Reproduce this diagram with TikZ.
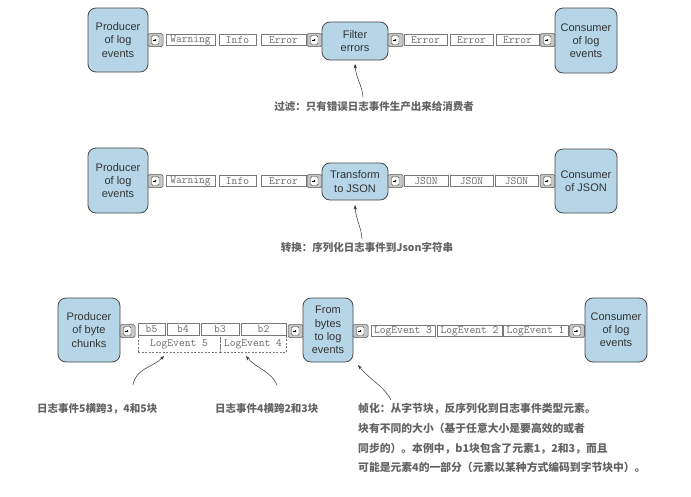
\documentclass[tikz,border=0pt]{standalone}
\usepackage{fontspec}
\setmainfont{Liberation Sans}
\newfontfamily\cjk{Noto Sans CJK SC}
\usetikzlibrary{arrows.meta,calc}
\definecolor{boxblue}{RGB}{182,214,232}
\definecolor{boxedge}{RGB}{72,72,72}
\definecolor{msgedge}{RGB}{120,120,120}
\definecolor{msgtext}{RGB}{105,105,105}
\definecolor{captext}{RGB}{100,100,100}
\tikzset{
  proc/.style={draw=boxedge, line width=0.8pt, fill=boxblue, rounded corners=8pt,
    align=center, inner sep=0pt, font=\fontsize{11}{13.2}\selectfont, text=black!80},
  msg/.style={draw=msgedge, line width=0.6pt, fill=white, inner sep=0pt,
    minimum height=11.5pt, font=\ttfamily\fontsize{11.2}{11}\selectfont, text=msgtext},
  port/.style={draw=gray!70!black, line width=0.5pt, fill=gray!45, rounded corners=1.5pt,
    minimum width=15pt, minimum height=13pt, inner sep=0pt,
    path picture={
      \fill[white] ($(path picture bounding box.south west)+(3.5pt,2pt)$) rectangle
                   ($(path picture bounding box.north east)+(-4pt,-2pt)$);
      \draw[gray!60!black, line width=0.4pt] ($(path picture bounding box.south west)+(3.5pt,2pt)$) rectangle
                   ($(path picture bounding box.north east)+(-4pt,-2pt)$);
      \fill[black] ($(path picture bounding box.center)+(2pt,0pt)$) -- ++(-3pt,1.8pt) -- ++(0pt,-3.6pt) -- cycle;
      \draw[black, line width=0.7pt] ($(path picture bounding box.center)+(-3pt,0pt)$) -- ++(2.5pt,0pt);
    }},
  captxt/.style={font=\cjk\bfseries\fontsize{10.5}{19.5}\selectfont, text=captext, inner sep=0pt},
  ann/.style={draw=gray!40!black, line width=0.5pt, -{Stealth[length=4.5pt,width=3.2pt]}}
}
\begin{document}
\begin{tikzpicture}[x=1pt,y=-1pt]
\useasboundingbox[fill=white] (0,0) rectangle (691,496);

% ---------- Row 1 ----------
\node[proc, minimum width=60pt, minimum height=64pt] (p1) at (118,40) {Producer\\of log\\events};
\node[port] (p1o) at (155.5,40) {};
\node[msg, minimum width=49pt] (m11) at (190.5,40) {Warning};
\node[msg, minimum width=37pt] (m12) at (237.5,40) {Info};
\node[msg, minimum width=45pt] (m13) at (283.5,40) {Error};
\node[port] (f1i) at (314.5,40) {};
\node[proc, minimum width=66pt, minimum height=38pt] (f1) at (355,41) {Filter\\errors};
\node[port] (f1o) at (395.5,40) {};
\node[msg, minimum width=43pt] (m14) at (425.5,40) {Error};
\node[msg, minimum width=43pt] (m15) at (471.5,40) {Error};
\node[msg, minimum width=43pt] (m16) at (517.5,40) {Error};
\node[port] (c1i) at (547.5,40) {};
\node[proc, minimum width=62pt, minimum height=65pt] (c1) at (586,40.5) {Consumer\\of log\\events};
\node[captxt] (cap1) at (374,107) {过滤：只有错误日志事件生产出来给消费者};
\coordinate (a1s) at (363,97);
\coordinate (a1e) at (355,64);
\draw[ann] (a1s) .. controls (362,85) and (356,78) .. (a1e);

% ---------- Row 2 ----------
\node[proc, minimum width=60pt, minimum height=65pt] (p2) at (118,180.5) {Producer\\of log\\events};
\node[port] (p2o) at (155.5,181) {};
\node[msg, minimum width=49pt] (m21) at (190.5,181) {Warning};
\node[msg, minimum width=37pt] (m22) at (237.5,181) {Info};
\node[msg, minimum width=45pt] (m23) at (283.5,181) {Error};
\node[port] (t2i) at (314.5,181) {};
\node[proc, minimum width=66pt, minimum height=37pt] (t2) at (355,181.5) {Transform\\to JSON};
\node[port] (t2o) at (395.5,181) {};
\node[msg, minimum width=44pt] (m24) at (426,181) {JSON};
\node[msg, minimum width=43pt] (m25) at (471.5,181) {JSON};
\node[msg, minimum width=43pt] (m26) at (516.5,181) {JSON};
\node[port] (c2i) at (547.5,181) {};
\node[proc, minimum width=62pt, minimum height=64pt] (c2) at (586,181) {Consumer\\of JSON};
\node[captxt] (cap2) at (367,248) {转换：序列化日志事件到Json字符串};
\coordinate (a2s) at (362,239);
\coordinate (a2e) at (355,205);
\draw[ann] (a2s) .. controls (361,226) and (356,220) .. (a2e);

% ---------- Row 3 ----------
\node[proc, minimum width=62pt, minimum height=64pt] (p3) at (89,330) {Producer\\of byte\\chunks};
\node[port] (p3o) at (127.5,331) {};
\node[msg, minimum width=27pt] (b5) at (151.5,329.5) {b5};
\node[msg, minimum width=32pt] (b4) at (183,329.5) {b4};
\node[msg, minimum width=38pt] (b3) at (220,329.5) {b3};
\node[msg, minimum width=45pt] (b2) at (263.5,329.5) {b2};
\node[draw=msgedge, dash pattern=on 2pt off 1.5pt, line width=0.6pt, minimum width=82pt, minimum height=17pt, inner sep=0pt] (le5) at (179,343.8) {};
\node[draw=msgedge, dash pattern=on 2pt off 1.5pt, line width=0.6pt, minimum width=66pt, minimum height=17pt, inner sep=0pt] (le4) at (253,343.8) {};
\node[font=\ttfamily\fontsize{11.2}{11}\selectfont, text=msgtext, inner sep=0pt] (le5t) at (179,344) {LogEvent 5};
\node[font=\ttfamily\fontsize{11.2}{11}\selectfont, text=msgtext, inner sep=0pt] (le4t) at (253,344) {LogEvent 4};
\node[port] (fbi) at (295.5,331) {};
\node[proc, minimum width=50pt, minimum height=64pt] (fb) at (328,330) {From\\bytes\\to log\\events};
\node[port] (fbo) at (360.5,331) {};
\node[msg, minimum width=64pt] (l3) at (403,331) {LogEvent 3};
\node[msg, minimum width=65pt] (l2) at (469.5,331) {LogEvent 2};
\node[msg, minimum width=65pt] (l1) at (535.5,331) {LogEvent 1};
\node[port] (c3i) at (577,331) {};
\node[proc, minimum width=62pt, minimum height=64pt] (c3) at (616,330) {Consumer\\of log\\events};

\node[captxt, anchor=west] (cap3a) at (37,409) {日志事件5横跨3，4和5块};
\node[captxt, anchor=west] (cap3b) at (215,409) {日志事件4横跨2和3块};
\node[captxt, anchor=north west, align=left, font=\cjk\bfseries\fontsize{10.8}{19.8}\selectfont] (cap3c) at (358,403) {帧化：从字节块，反序列化到日志事件类型元素。\\块有不同的大小（基于任意大小是要高效的或者\\同步的）。本例中，b1块包含了元素1，2和3，而且\\可能是元素4的一部分（元素以某种方式编码到字节块中）。};

\coordinate (a3s) at (133,385);
\coordinate (a3e) at (164,356);
\draw[ann] (a3s) .. controls (136,368) and (152,368) .. (a3e);
\coordinate (a4s) at (277,385);
\coordinate (a4e) at (246,356);
\draw[ann] (a4s) .. controls (272,372) and (256,368) .. (a4e);
\coordinate (a5s) at (391,400);
\coordinate (a5e) at (358,365);
\draw[ann] (a5s) .. controls (384,386) and (370,380) .. (a5e);
\end{tikzpicture}
\end{document}
